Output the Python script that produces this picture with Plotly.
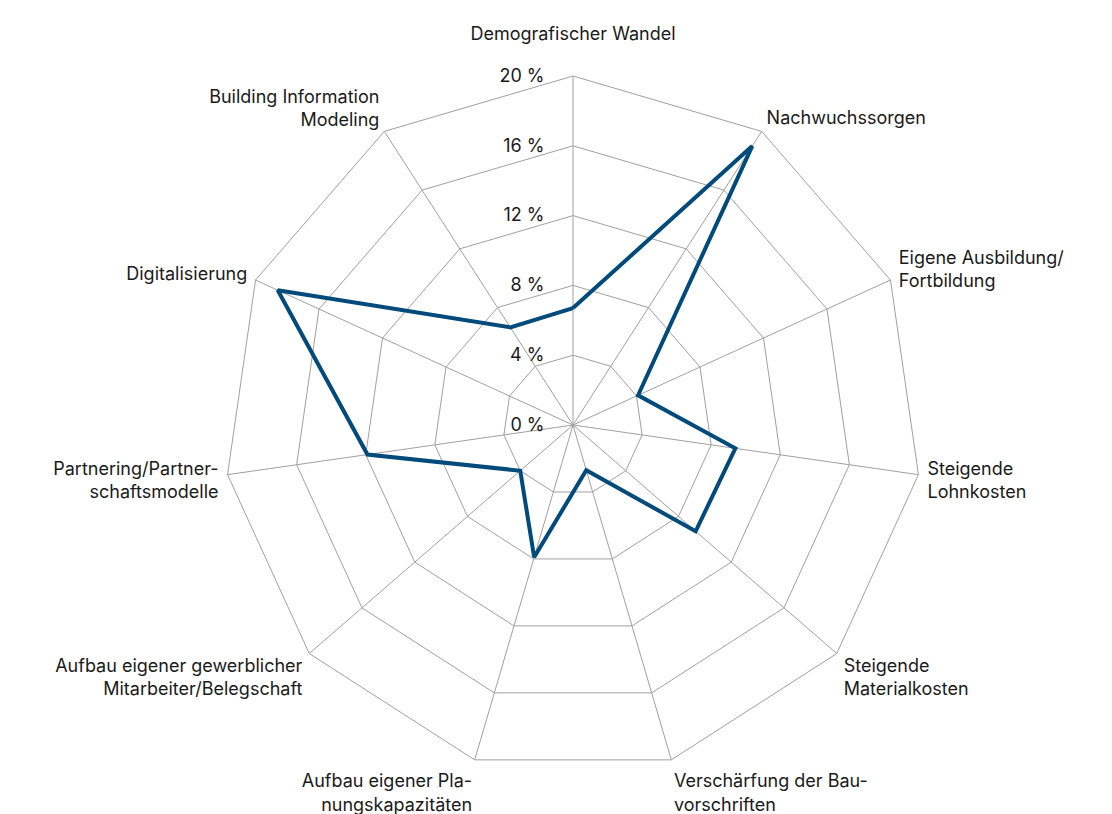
import plotly.graph_objects as go

categories = [
    "Demografischer Wandel<br> ",
    "Nachwuchssorgen",
    "Eigene Ausbildung/<br>Fortbildung",
    "Steigende<br>Lohnkosten",
    "Steigende<br>Materialkosten",
    "Verschärfung der Bau-<br>vorschriften",
    "Aufbau eigener Pla-<br>nungskapazitäten",
    "Aufbau eigener gewerblicher<br>Mitarbeiter/Belegschaft",
    "Partnering/Partner-<br>schaftsmodelle",
    "Digitalisierung",
    "Building Information<br>Modeling",
]
values = [6.7, 19.0, 4.1, 9.4, 9.3, 2.7, 7.9, 4.0, 11.9, 18.6, 6.65]
radial_ticks = [0, 4, 8, 12, 16, 20]

FONT = "Inter"
PAD = "\u00a0" * 5
fig = go.Figure()
fig.add_trace(go.Scatterpolar(
    r=values + [values[0]],
    theta=categories + [categories[0]],
    mode="lines",
    line=dict(color="#004a7c", width=4),
    showlegend=False,
    hoverinfo="skip",
))

fig.update_layout(
    width=1112, height=814,
    margin=dict(l=0, r=0, t=0, b=0),
    paper_bgcolor="white",
    font=dict(family=FONT, size=18, color="#1a1a1a"),
    polar=dict(
        domain=dict(x=[216/1112, 914/1112], y=[1-766/814, 1-68/814]),
        bgcolor="white",
        gridshape="linear",
        radialaxis=dict(
            range=[0, 20],
            tickvals=radial_ticks,
            ticktext=[f"{v} %{PAD}" for v in radial_ticks],
            angle=90,
            tickangle=90,
            side="counterclockwise",
            showline=False,
            ticks="",
            gridcolor="#a0a0a0",
            gridwidth=1,
            tickfont=dict(family=FONT, size=18, color="#1a1a1a"),
        ),
        angularaxis=dict(
            direction="clockwise",
            rotation=90,
            linecolor="#a0a0a0",
            linewidth=1,
            gridcolor="#a0a0a0",
            gridwidth=1,
            ticks="outside",
            ticklen=5,
            tickcolor="rgba(0,0,0,0)",
            tickfont=dict(family=FONT, size=18, color="#1a1a1a"),
        ),
    ),
)

fig.write_html("out.html")
